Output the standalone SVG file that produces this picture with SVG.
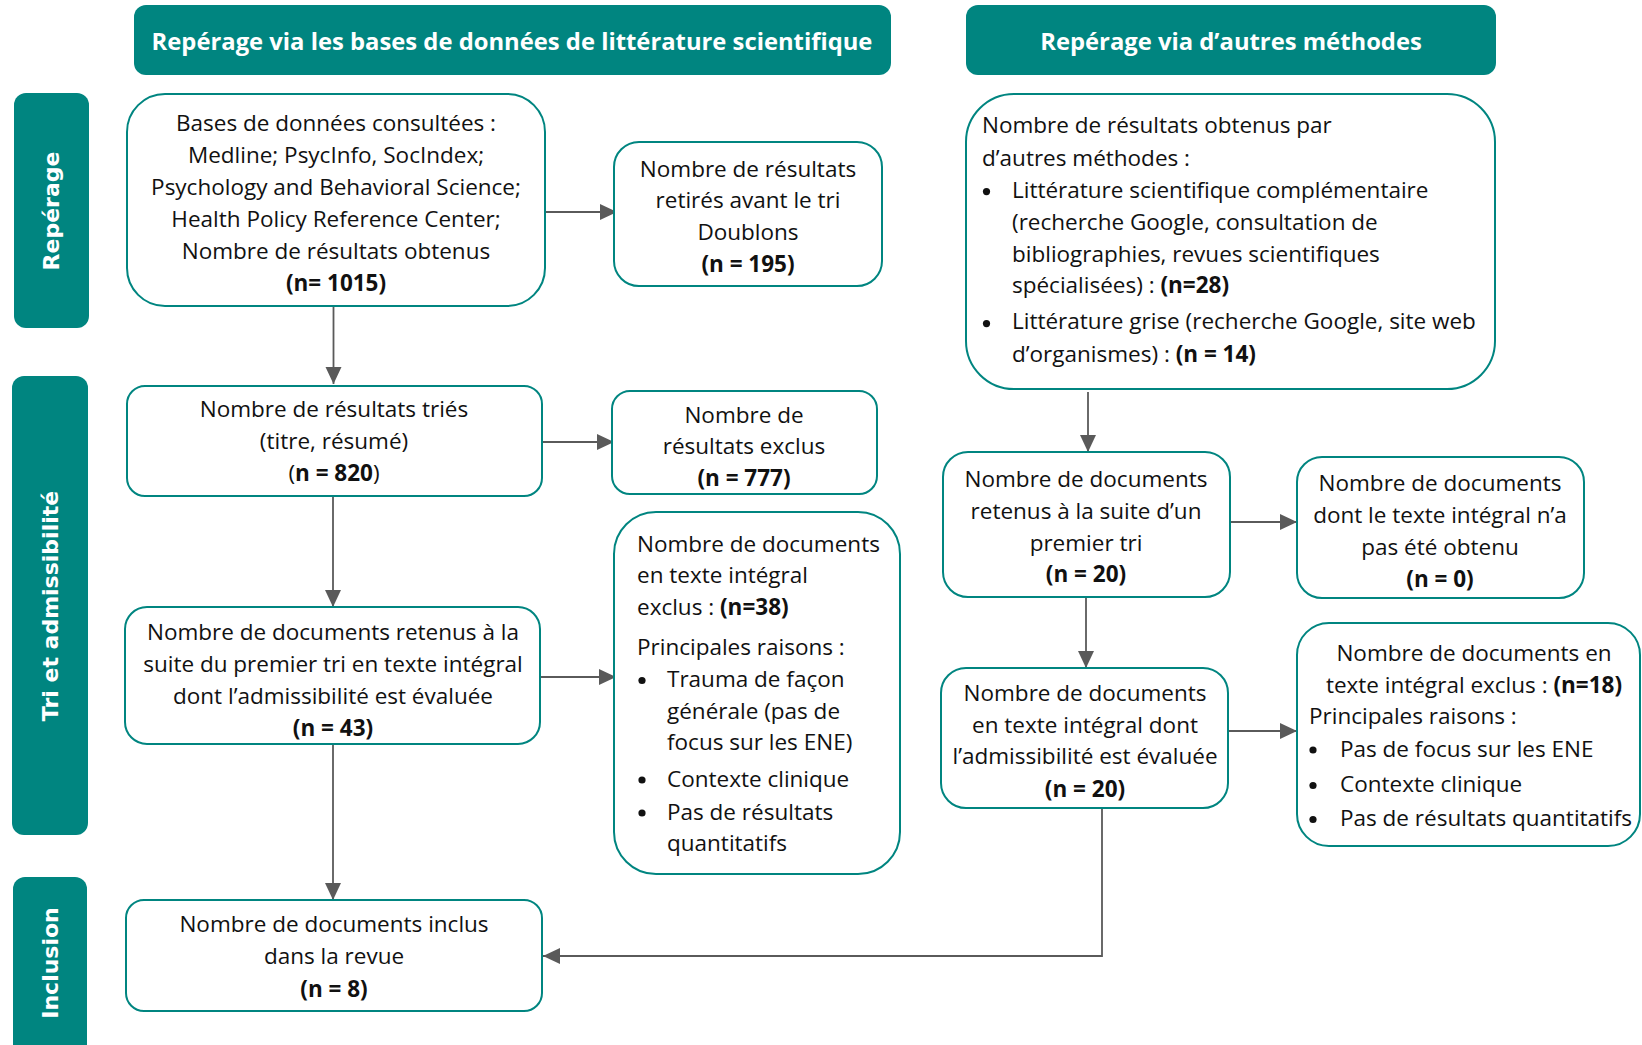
<svg xmlns="http://www.w3.org/2000/svg" width="1642" height="1045" viewBox="0 0 1642 1045">
<style>
.band{fill:#008580;}
.hd{font-family:"Open Sans","Liberation Sans",sans-serif;font-weight:bold;font-size:23.8px;fill:#fff;text-anchor:middle;}
.side{font-family:"DejaVu Sans","Liberation Sans",sans-serif;font-weight:bold;font-size:22px;fill:#fff;text-anchor:middle;}
.box{fill:#fff;stroke:#008580;stroke-width:2;}
.t{font-family:"Open Sans","Liberation Sans",sans-serif;font-size:22.5px;fill:#111;}
.c{text-anchor:middle;}
.b{font-weight:bold;}
.dot{fill:#111;}
.ln{fill:none;stroke:#5a5a5a;stroke-width:1.8;}
</style>
<defs>
<marker id="ah" markerUnits="userSpaceOnUse" markerWidth="18" markerHeight="18" viewBox="0 0 18 18" refX="17" refY="9" orient="auto">
<path d="M0,1 L17,9 L0,17 Z" fill="#5a5a5a"/>
</marker>
</defs>

<g id="header-db">
<rect class="band" x="134" y="5" width="757" height="70" rx="12"/>
<text class="hd" x="512" y="50">Repérage via les bases de données de littérature scientifique</text>
</g>
<g id="header-other">
<rect class="band" x="966" y="5" width="530" height="70" rx="12"/>
<text class="hd" x="1231" y="50">Repérage via d’autres méthodes</text>
</g>

<g id="side-reperage">
<rect class="band" x="14" y="93" width="75" height="235" rx="12"/>
<text class="side" transform="translate(59,211) rotate(-90)">Repérage</text>
</g>
<g id="side-tri">
<rect class="band" x="12" y="376" width="76" height="459" rx="12"/>
<text class="side" transform="translate(58,606) rotate(-90)">Tri et admissibilité</text>
</g>
<g id="side-inclusion">
<rect class="band" x="13" y="877" width="74" height="190" rx="12"/>
<text class="side" transform="translate(58,963) rotate(-90)">Inclusion</text>
</g>

<g id="connectors">
<line class="ln" x1="545" y1="212" x2="617" y2="212" marker-end="url(#ah)"/>
<line class="ln" x1="333.5" y1="306" x2="333.5" y2="384" marker-end="url(#ah)"/>
<line class="ln" x1="542" y1="442" x2="614" y2="442" marker-end="url(#ah)"/>
<line class="ln" x1="333" y1="496" x2="333" y2="607" marker-end="url(#ah)"/>
<line class="ln" x1="540" y1="677" x2="616" y2="677" marker-end="url(#ah)"/>
<line class="ln" x1="333" y1="744" x2="333" y2="900" marker-end="url(#ah)"/>
<line class="ln" x1="1088" y1="392" x2="1088" y2="452" marker-end="url(#ah)"/>
<line class="ln" x1="1230" y1="522" x2="1297" y2="522" marker-end="url(#ah)"/>
<line class="ln" x1="1086" y1="597" x2="1086" y2="668" marker-end="url(#ah)"/>
<line class="ln" x1="1228" y1="731" x2="1297" y2="731" marker-end="url(#ah)"/>
<path class="ln" d="M1102,808 V956 H543" marker-end="url(#ah)"/>
</g>

<g id="n-bases">
<rect class="box" x="127" y="94" width="418" height="212" rx="38"/>
<text class="t c" x="336" y="131">Bases de données consultées :</text>
<text class="t c" x="336" y="163">Medline; PsycInfo, SocIndex;</text>
<text class="t c" x="336" y="195">Psychology and Behavioral Science;</text>
<text class="t c" x="336" y="227">Health Policy Reference Center;</text>
<text class="t c" x="336" y="259">Nombre de résultats obtenus</text>
<text class="t c b" x="336" y="291">(n= 1015)</text>
</g>

<g id="n-doublons">
<rect class="box" x="614" y="142" width="268" height="144" rx="25"/>
<text class="t c" x="748" y="177">Nombre de résultats</text>
<text class="t c" x="748" y="208">retirés avant le tri</text>
<text class="t c" x="748" y="240">Doublons</text>
<text class="t c b" x="748" y="272">(n = 195)</text>
</g>

<g id="n-tries">
<rect class="box" x="127" y="386" width="415" height="110" rx="18"/>
<text class="t c" x="334" y="417">Nombre de résultats triés</text>
<text class="t c" x="334" y="449">(titre, résumé)</text>
<text class="t c" x="334" y="481">(<tspan class="b">n = 820</tspan>)</text>
</g>

<g id="n-exclus777">
<rect class="box" x="612" y="391" width="265" height="103" rx="18"/>
<text class="t c" x="744" y="423">Nombre de</text>
<text class="t c" x="744" y="454">résultats exclus</text>
<text class="t c b" x="744" y="486">(n = 777)</text>
</g>

<g id="n-retenus43">
<rect class="box" x="125" y="607" width="415" height="137" rx="22"/>
<text class="t c" x="333" y="640">Nombre de documents retenus à la</text>
<text class="t c" x="333" y="672">suite du premier tri en texte intégral</text>
<text class="t c" x="333" y="704">dont l’admissibilité est évaluée</text>
<text class="t c b" x="333" y="736">(n = 43)</text>
</g>

<g id="n-exclus38">
<rect class="box" x="614" y="512" width="286" height="362" rx="42"/>
<text class="t" x="637" y="552">Nombre de documents</text>
<text class="t" x="637" y="583">en texte intégral</text>
<text class="t" x="637" y="615">exclus : <tspan class="b">(n=38)</tspan></text>
<text class="t" x="637" y="655">Principales raisons :</text>
<circle class="dot" cx="642" cy="680.5" r="3.6"/>
<text class="t" x="667" y="687">Trauma de façon</text>
<text class="t" x="667" y="719">générale (pas de</text>
<text class="t" x="667" y="750">focus sur les ENE)</text>
<circle class="dot" cx="642" cy="780" r="3.6"/>
<text class="t" x="667" y="787">Contexte clinique</text>
<circle class="dot" cx="642" cy="813" r="3.6"/>
<text class="t" x="667" y="820">Pas de résultats</text>
<text class="t" x="667" y="851">quantitatifs</text>
</g>

<g id="n-inclus">
<rect class="box" x="126" y="900" width="416" height="111" rx="18"/>
<text class="t c" x="334" y="932">Nombre de documents inclus</text>
<text class="t c" x="334" y="964">dans la revue</text>
<text class="t c b" x="334" y="997">(n = 8)</text>
</g>

<g id="n-autres">
<rect class="box" x="966" y="94" width="529" height="295" rx="48"/>
<text class="t" x="982" y="133">Nombre de résultats obtenus par</text>
<text class="t" x="982" y="166">d’autres méthodes :</text>
<circle class="dot" cx="986.5" cy="191.6" r="3.6"/>
<text class="t" x="1012" y="198">Littérature scientifique complémentaire</text>
<text class="t" x="1012" y="230">(recherche Google, consultation de</text>
<text class="t" x="1012" y="262">bibliographies, revues scientifiques</text>
<text class="t" x="1012" y="293">spécialisées) : <tspan class="b">(n=28)</tspan></text>
<circle class="dot" cx="986.5" cy="323.6" r="3.6"/>
<text class="t" x="1012" y="329">Littérature grise (recherche Google, site web</text>
<text class="t" x="1012" y="362">d’organismes) : <tspan class="b">(n = 14)</tspan></text>
</g>

<g id="n-retenus20">
<rect class="box" x="943" y="452" width="287" height="145" rx="25"/>
<text class="t c" x="1086" y="487">Nombre de documents</text>
<text class="t c" x="1086" y="519">retenus à la suite d’un</text>
<text class="t c" x="1086" y="551">premier tri</text>
<text class="t c b" x="1086" y="582">(n = 20)</text>
</g>

<g id="n-nonobtenu">
<rect class="box" x="1297" y="457" width="287" height="141" rx="25"/>
<text class="t c" x="1440" y="491">Nombre de documents</text>
<text class="t c" x="1440" y="523">dont le texte intégral n’a</text>
<text class="t c" x="1440" y="555">pas été obtenu</text>
<text class="t c b" x="1440" y="587">(n = 0)</text>
</g>

<g id="n-evaluee20">
<rect class="box" x="941" y="668" width="287" height="140" rx="25"/>
<text class="t c" x="1085" y="701">Nombre de documents</text>
<text class="t c" x="1085" y="733">en texte intégral dont</text>
<text class="t c" x="1085" y="764">l’admissibilité est évaluée</text>
<text class="t c b" x="1085" y="797">(n = 20)</text>
</g>

<g id="n-exclus18">
<rect class="box" x="1297" y="623" width="343" height="223" rx="32"/>
<text class="t c" x="1474" y="661">Nombre de documents en</text>
<text class="t c" x="1474" y="693">texte intégral exclus : <tspan class="b">(n=18)</tspan></text>
<text class="t" x="1309" y="724">Principales raisons :</text>
<circle class="dot" cx="1313" cy="750" r="3.6"/>
<text class="t" x="1340" y="757">Pas de focus sur les ENE</text>
<circle class="dot" cx="1313" cy="785.5" r="3.6"/>
<text class="t" x="1340" y="792">Contexte clinique</text>
<circle class="dot" cx="1313" cy="819.5" r="3.6"/>
<text class="t" x="1340" y="826">Pas de résultats quantitatifs</text>
</g>
</svg>
